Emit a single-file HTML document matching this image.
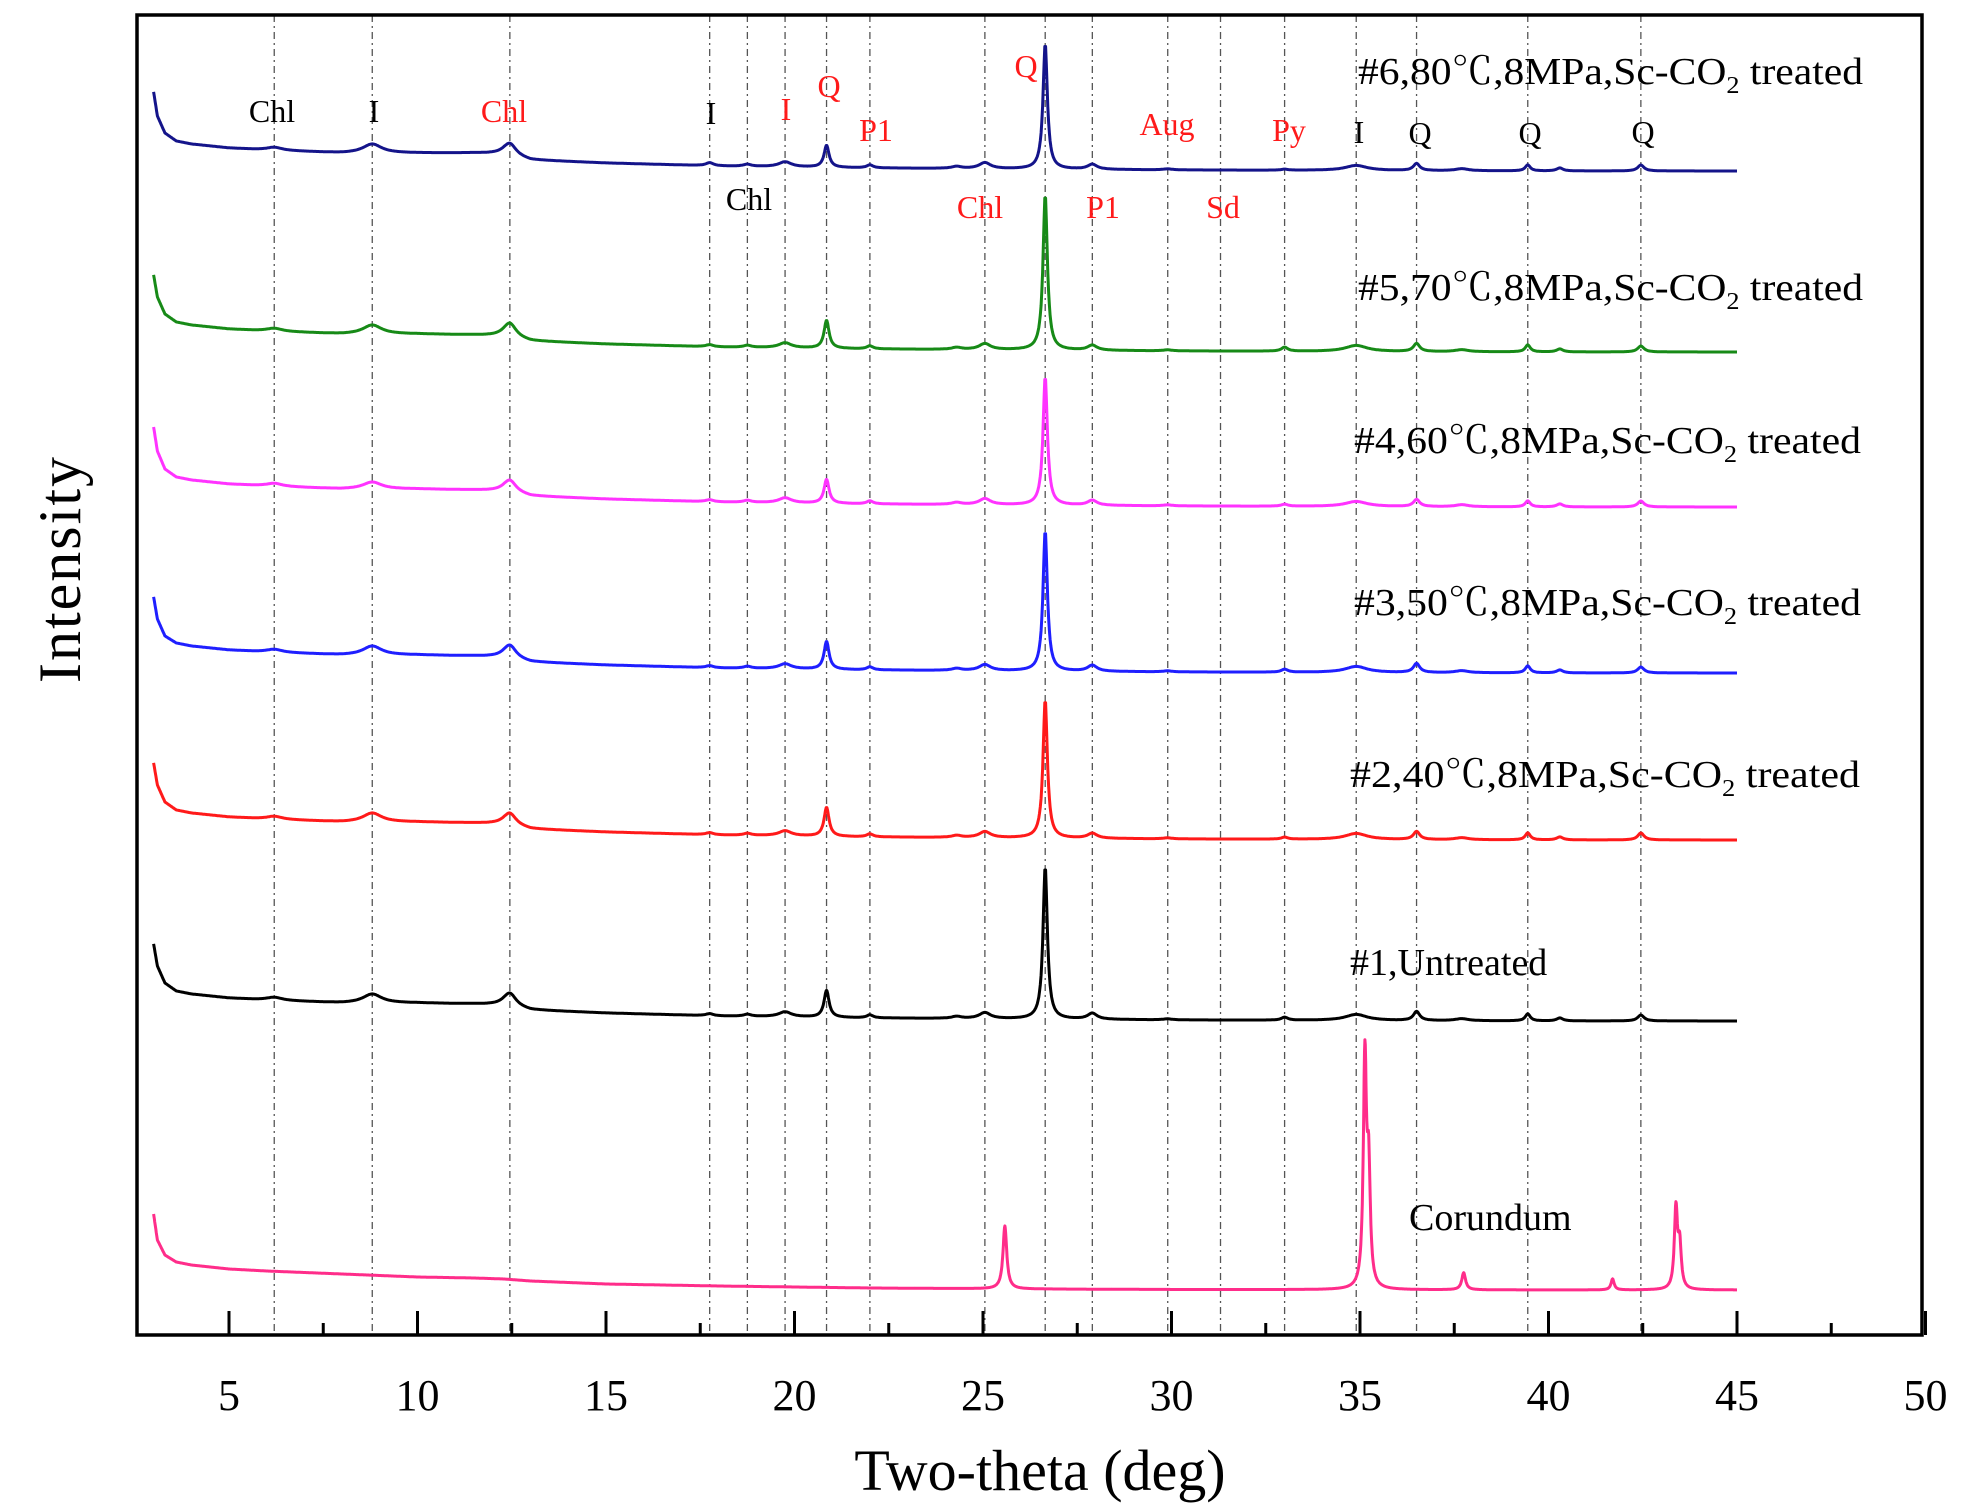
<!DOCTYPE html>
<html><head><meta charset="utf-8"><title>XRD patterns</title>
<style>
html,body{margin:0;padding:0;background:#fff;}
svg{display:block;font-family:"Liberation Serif","Noto Serif CJK SC",serif;}
</style></head>
<body>
<svg id="chart" width="1971" height="1512" viewBox="0 0 1971 1512" xmlns="http://www.w3.org/2000/svg">
<rect x="0" y="0" width="1971" height="1512" fill="#fff"/>
<g id="grid"></g>
<g id="series"></g>
<g id="axes"></g>
<g id="labels"></g>
</svg>
<script>
// ---- data ----
const xTicks = [5,10,15,20,25,30,35,40,45,50];
const xMinorTicks = [7.5,12.5,17.5,22.5,27.5,32.5,37.5,42.5,47.5];
const refLines = [6.2,8.8,12.45,17.75,18.75,19.75,20.85,22.0,25.05,26.65,27.9,29.9,31.3,33.0,34.9,36.5,39.45,42.45];
const peakPos = [6.2,8.8,12.45,17.75,18.75,19.75,20.85,22.0,24.3,25.05,26.65,27.9,29.9,33.0,34.9,36.5,37.7,39.45,40.3,42.45];
const peakWidth = [0.25,0.3,0.2,0.12,0.12,0.2,0.08,0.1,0.15,0.18,0.07,0.15,0.15,0.1,0.35,0.1,0.2,0.08,0.1,0.1];
const baseX = [3,3.1,3.3,3.6,4,5,6,8,10,11.5,12.3,13,15,18,22,26,30,40,45];
const seriesNames = ["#1,Untreated","#2,40℃,8MPa,Sc-CO2 treated","#3,50℃,8MPa,Sc-CO2 treated","#4,60℃,8MPa,Sc-CO2 treated","#5,70℃,8MPa,Sc-CO2 treated","#6,80℃,8MPa,Sc-CO2 treated"];
const seriesBaseY = [1021,840,673,507,352,171];
const base1 = [77,55,38,30,27,23,21,18,18,17,16,11,8,5,3,2,1,0,0];
const base2 = [77,55,38,30,27,23,21,18,18,17,16,11,8,5,3,2,1,0,0];
const base3 = [76,54,37,30,27,23,21,18,18,17,16,11,8,5,3,2,1,0,0];
const base4 = [80,56,38,30,27,23,21,18,18,17,16,11,8,5,3,2,1,0,0];
const base5 = [77,55,38,30,27,23,21,18,18,17,16,11,8,5,3,2,1,0,0];
const base6 = [79,55,38,30,27,23,21,18,18,18,17,11,8,5,3,2,1,0,0];
const peaks1 = [3,9,13,2,2,5,27,3,2,6,152,6,1,3,6,9,2,7,3,6];
const peaks2 = [3,9,12,2,2,5,29,3,2,6,138,5,1,2,6,8,2,7,3,7];
const peaks3 = [3,9,13,2,2,5,28,3,2,6,140,6,1,3,6,9,2,7,3,6];
const peaks4 = [3,7,12,2,2,5,24,3,2,6,128,5,1,2,5,7,2,6,3,6];
const peaks5 = [3,9,14,2,2,5,28,3,2,6,155,5,1,4,6,8,2,7,3,6];
const peaks6 = [3,9,12,3,2,5,22,3,2,6,125,5,1,1,5,7,2,6,3,6];
const corBaseY = 1290;
const corBase = [76,50,35,28,25,21,19,16,13,12,11,9,6,4,2,1,0.5,0,0];
const corPeakPos = [25.58,35.13,35.23,37.75,41.7,43.38,43.48];
const corPeakH = [63,228,110,17,11,80,42];
const corPeakW = [0.06,0.05,0.05,0.06,0.05,0.05,0.05];

// ---- scales ----
const X0 = 229, XS = 37.7;
const xs = v => X0 + (v-5)*XS;
const ys = (base, v) => base - v;
const PLOT_TOP = 15, PLOT_BOT = 1335, PLOT_L = 137, PLOT_R = 1922;
const NS = "http://www.w3.org/2000/svg";
function mk(tag, attrs, parent){const e=document.createElementNS(NS,tag);for(const k in attrs)e.setAttribute(k,attrs[k]);parent.appendChild(e);return e;}
function interp(xa, ya, x){ if(x<=xa[0])return ya[0]; for(let i=1;i<xa.length;i++){ if(x<=xa[i]){const t=(x-xa[i-1])/(xa[i]-xa[i-1]);return ya[i-1]+t*(ya[i]-ya[i-1]);} } return ya[ya.length-1]; }
function intensity(x, bArr, pos, h, w){ let v=interp(baseX,bArr,x); for(let i=0;i<pos.length;i++){const d=(x-pos[i])/w[i]; v+=h[i]/(1+d*d);} return v; }

const grid=document.getElementById('grid');
refLines.forEach(v=>{
  const l=mk('line',{x1:xs(v),x2:xs(v),y1:PLOT_TOP,y2:PLOT_BOT,stroke:'#555','stroke-width':1.3,'stroke-dasharray':'7,4,2,4'},grid);
  
  
});

const sg=document.getElementById('series');
const colors=['#000000','#ff1a1a','#1f1fff','#ff33ff','#178a17','#14148a'];
const bases=[base1,base2,base3,base4,base5,base6];
const peaks=[peaks1,peaks2,peaks3,peaks4,peaks5,peaks6];
for(let s=0;s<6;s++){
  let d='';
  for(let x=3;x<=45.001;x+=0.02){const v=intensity(x,bases[s],peakPos,peaks[s],peakWidth);d+=(d?'L':'M')+xs(x).toFixed(1)+','+ys(seriesBaseY[s],v).toFixed(1);}
  const p=mk('path',{d:d,fill:'none',stroke:colors[s],'stroke-width':3,'stroke-linejoin':'round'},sg);
  
  
}
{
  let d='';
  for(let x=3;x<=45.001;x+=0.01){const v=intensity(x,corBase,corPeakPos,corPeakH,corPeakW);d+=(d?'L':'M')+xs(x).toFixed(1)+','+ys(corBaseY,v).toFixed(1);}
  const p=mk('path',{d:d,fill:'none',stroke:'#ff2d8a','stroke-width':3,'stroke-linejoin':'round'},sg);
  
  
}

// axes
const ax=document.getElementById('axes');
const fr=mk('rect',{x:PLOT_L,y:PLOT_TOP,width:PLOT_R-PLOT_L,height:PLOT_BOT-PLOT_TOP,fill:'none',stroke:'#000','stroke-width':3.5},ax);


xTicks.forEach(v=>{
  const t=mk('line',{x1:xs(v),x2:xs(v),y1:PLOT_BOT,y2:PLOT_BOT-24,stroke:'#000','stroke-width':3},ax);
  
  
  const tl=mk('text',{x:xs(v),y:1410,'font-size':44,'text-anchor':'middle',fill:'#000'},ax);
  tl.textContent=v;
  
  
});
xMinorTicks.forEach(v=>{
  const t=mk('line',{x1:xs(v),x2:xs(v),y1:PLOT_BOT,y2:PLOT_BOT-12,stroke:'#000','stroke-width':3},ax);
  
  
});
</script>
<svg style="position:absolute;left:0;top:0" width="1971" height="1512">
<g font-family="Liberation Serif, Noto Serif CJK SC, serif">
<text x="1040" y="1490" font-size="58" text-anchor="middle">Two-theta (deg)</text>
<text transform="translate(80,570) rotate(-90)" font-size="60" text-anchor="middle" textLength="226">Intensity</text>
<g font-size="38">
<text x="1358" y="84" textLength="505" lengthAdjust="spacingAndGlyphs">#6,80℃,8MPa,Sc-CO<tspan font-size="24" dy="9">2</tspan><tspan dy="-9"> treated</tspan></text>
<text x="1358" y="300" textLength="505" lengthAdjust="spacingAndGlyphs">#5,70℃,8MPa,Sc-CO<tspan font-size="24" dy="9">2</tspan><tspan dy="-9"> treated</tspan></text>
<text x="1354" y="453" textLength="507" lengthAdjust="spacingAndGlyphs">#4,60℃,8MPa,Sc-CO<tspan font-size="24" dy="9">2</tspan><tspan dy="-9"> treated</tspan></text>
<text x="1354" y="615" textLength="507" lengthAdjust="spacingAndGlyphs">#3,50℃,8MPa,Sc-CO<tspan font-size="24" dy="9">2</tspan><tspan dy="-9"> treated</tspan></text>
<text x="1350" y="787" textLength="510" lengthAdjust="spacingAndGlyphs">#2,40℃,8MPa,Sc-CO<tspan font-size="24" dy="9">2</tspan><tspan dy="-9"> treated</tspan></text>
<text x="1350" y="975">#1,Untreated</text>
<text x="1409" y="1230">Corundum</text>
</g>
<g font-size="32" text-anchor="middle">
<text x="272" y="122" fill="#000">Chl</text>
<text x="374" y="122" fill="#000">I</text>
<text x="504" y="122" fill="#ff1a1a">Chl</text>
<text x="711" y="124" fill="#000">I</text>
<text x="786" y="120" fill="#ff1a1a">I</text>
<text x="829" y="97" fill="#ff1a1a">Q</text>
<text x="876" y="141" fill="#ff1a1a">P1</text>
<text x="1026" y="77" fill="#ff1a1a">Q</text>
<text x="1167" y="135" fill="#ff1a1a">Aug</text>
<text x="1289" y="141" fill="#ff1a1a">Py</text>
<text x="1359" y="143" fill="#000">I</text>
<text x="1420" y="144" fill="#000">Q</text>
<text x="1530" y="144" fill="#000">Q</text>
<text x="1643" y="143" fill="#000">Q</text>
<text x="749" y="210" fill="#000">Chl</text>
<text x="980" y="218" fill="#ff1a1a">Chl</text>
<text x="1103" y="218" fill="#ff1a1a">P1</text>
<text x="1223" y="218" fill="#ff1a1a">Sd</text>
</g>
</g>
</svg>
</body></html>
